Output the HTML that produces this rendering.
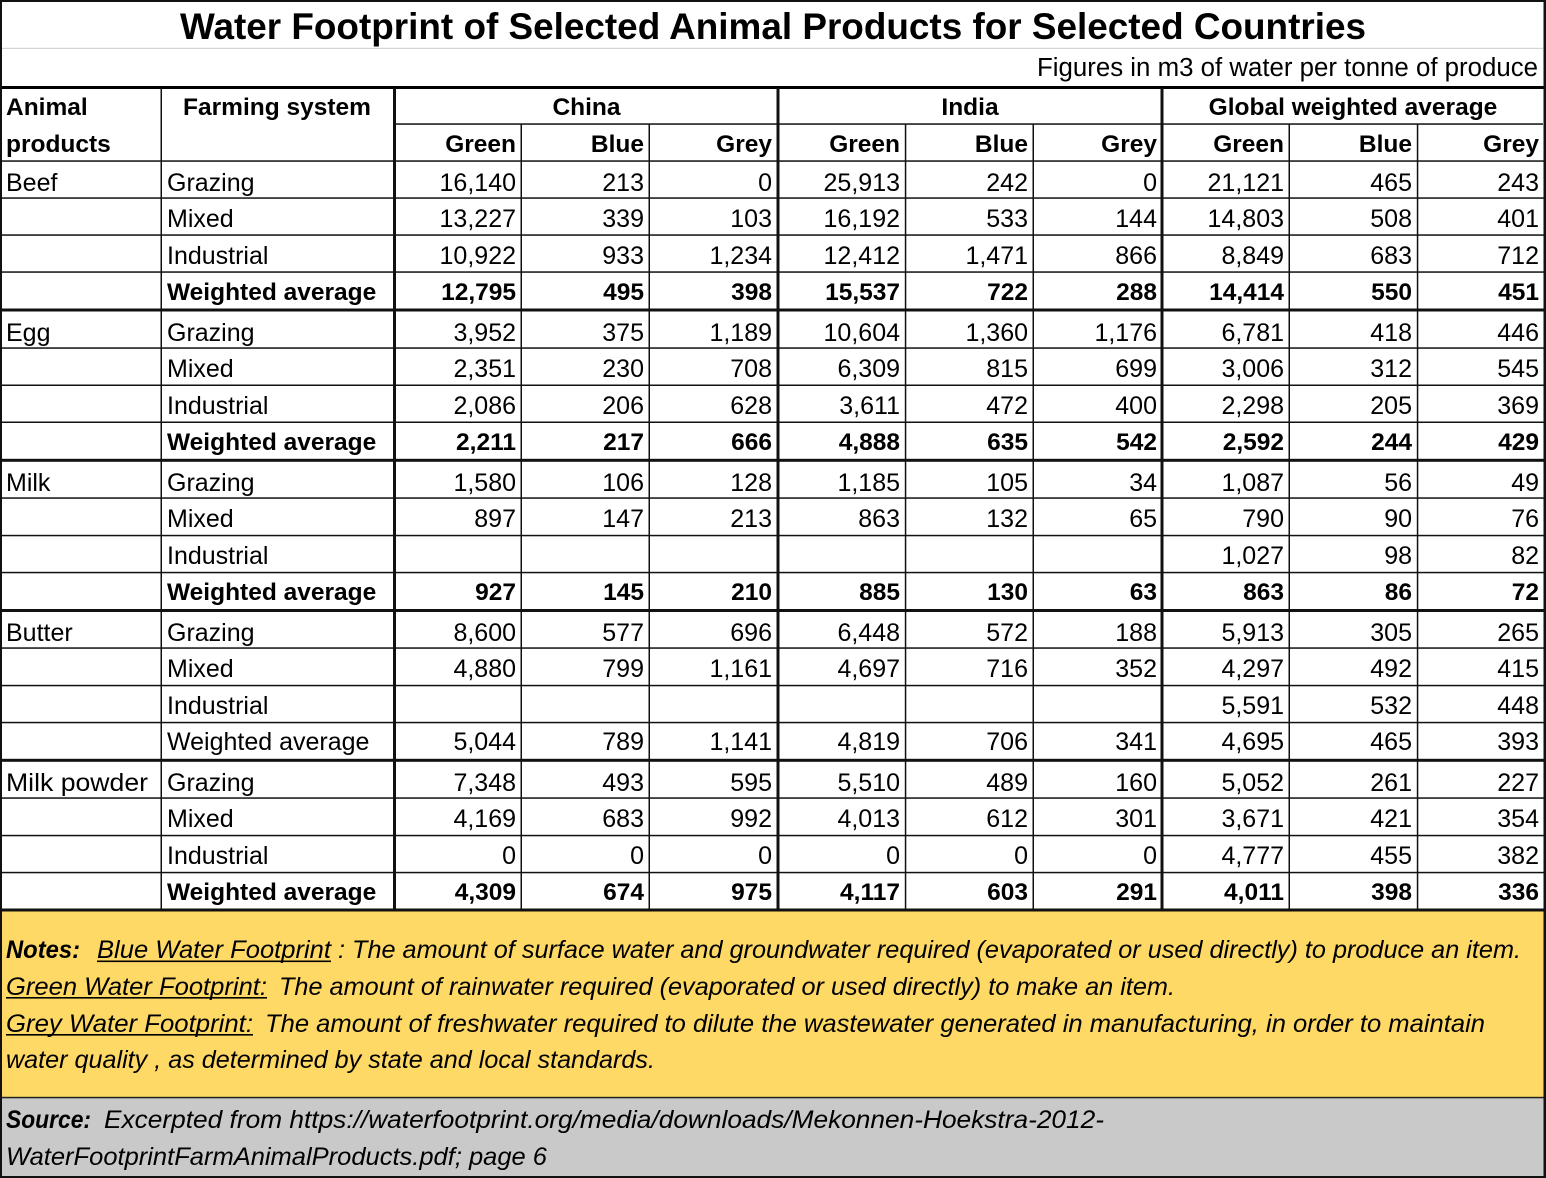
<!DOCTYPE html>
<html>
<head>
<meta charset="utf-8">
<style>
  html,body{margin:0;padding:0;background:#fff;}
  svg{display:block;}
  .n{font-size:25px;text-anchor:end;}
  .b{font-size:24.5px;font-weight:bold;text-anchor:end;}
  .l{font-size:25px;}
  .lb{font-size:24.5px;font-weight:bold;}
  .hc{font-size:24.5px;font-weight:bold;text-anchor:middle;}
  .it{font-size:25px;font-style:italic;}
  .bi{font-size:25px;font-style:italic;font-weight:bold;}
</style>
</head>
<body>
<svg width="1546" height="1178" viewBox="0 0 1546 1178" xmlns="http://www.w3.org/2000/svg" font-family="'Liberation Sans', Arial, sans-serif" fill="#000">
  <rect x="0" y="0" width="1546" height="1178" fill="#fff"/>
  <!-- notes / source backgrounds -->
  <rect x="0" y="911" width="1546" height="187" fill="#FFD966"/>
  <rect x="0" y="1097.5" width="1546" height="79" fill="#C9C9C9"/>

  <!-- title area lines -->
  <rect x="0" y="0" width="1546" height="2" fill="#111"/>
  <rect x="2" y="47.8" width="1541" height="1.2" fill="#d4d4d4"/>
  <rect x="0" y="86" width="1546" height="3" fill="#000"/>

  <!-- header horizontal lines -->
  <rect x="396" y="123.3" width="1147" height="1.5" fill="#111"/>
  <rect x="0" y="160.3" width="1546" height="1.5" fill="#111"/>

  <!-- data horizontal lines -->
  <g fill="#111">
    <rect x="0" y="197.3" width="1546" height="1.5"/>
    <rect x="0" y="234.3" width="1546" height="1.5"/>
    <rect x="0" y="271.3" width="1546" height="1.5"/>
    <rect x="0" y="308.5" width="1546" height="3"/>
    <rect x="0" y="347.3" width="1546" height="1.5"/>
    <rect x="0" y="384.5" width="1546" height="1.5"/>
    <rect x="0" y="421.5" width="1546" height="1.5"/>
    <rect x="0" y="458.8" width="1546" height="3"/>
    <rect x="0" y="497.3" width="1546" height="1.5"/>
    <rect x="0" y="534.8" width="1546" height="1.5"/>
    <rect x="0" y="571.8" width="1546" height="1.5"/>
    <rect x="0" y="609" width="1546" height="3"/>
    <rect x="0" y="647.3" width="1546" height="1.5"/>
    <rect x="0" y="684.8" width="1546" height="1.5"/>
    <rect x="0" y="721.8" width="1546" height="1.5"/>
    <rect x="0" y="758.8" width="1546" height="3"/>
    <rect x="0" y="797.3" width="1546" height="1.5"/>
    <rect x="0" y="834.8" width="1546" height="1.5"/>
    <rect x="0" y="871.8" width="1546" height="1.5"/>
    <rect x="0" y="908.5" width="1546" height="3"/>
  </g>
  <rect x="0" y="1096.8" width="1546" height="1.5" fill="#222"/>
  <rect x="0" y="1176" width="1546" height="2" fill="#111"/>

  <!-- vertical lines -->
  <g fill="#111">
    <rect x="160.5" y="88" width="1.5" height="822"/>
    <rect x="393" y="88" width="3" height="822"/>
    <rect x="776.5" y="88" width="3" height="822"/>
    <rect x="1160.5" y="88" width="3" height="822"/>
    <rect x="520.5" y="124" width="1.5" height="786"/>
    <rect x="648.5" y="124" width="1.5" height="786"/>
    <rect x="904.8" y="124" width="1.5" height="786"/>
    <rect x="1032.5" y="124" width="1.5" height="786"/>
    <rect x="1288.5" y="124" width="1.5" height="786"/>
    <rect x="1416.8" y="124" width="1.5" height="786"/>
  </g>
  <rect x="0" y="0" width="2" height="1178" fill="#111"/>
  <rect x="1543.5" y="0" width="2.5" height="1178" fill="#111"/>

  <!-- title -->
  <text x="180" y="39" font-size="37" font-weight="bold" textLength="1186" lengthAdjust="spacingAndGlyphs">Water Footprint of Selected Animal Products for Selected Countries</text>
  <text x="1037" y="76" font-size="25.5" textLength="501" lengthAdjust="spacingAndGlyphs">Figures in m3 of water per tonne of produce</text>

  <!-- headers -->
  <text class="lb" x="6" y="115">Animal</text>
  <text class="lb" x="6" y="152">products</text>
  <text class="hc" x="277" y="115">Farming system</text>
  <text class="hc" x="586.5" y="115">China</text>
  <text class="hc" x="970" y="115">India</text>
  <text class="hc" x="1353" y="115">Global weighted average</text>
  <g class="b">
    <text x="516" y="152">Green</text><text x="644" y="152">Blue</text><text x="772" y="152">Grey</text>
    <text x="900" y="152">Green</text><text x="1028" y="152">Blue</text><text x="1157" y="152">Grey</text>
    <text x="1284" y="152">Green</text><text x="1412" y="152">Blue</text><text x="1539" y="152">Grey</text>
  </g>

  <!-- product labels -->
  <g class="l">
    <text x="6" y="191">Beef</text>
    <text x="6" y="341">Egg</text>
    <text x="6" y="491">Milk</text>
    <text x="6" y="641">Butter</text>
    <text x="6" y="791" textLength="142" lengthAdjust="spacingAndGlyphs">Milk powder</text>
  </g>

  <!-- farming system labels -->
  <g class="l">
    <text x="167" y="191">Grazing</text><text x="167" y="227">Mixed</text><text x="167" y="264">Industrial</text>
    <text x="167" y="341">Grazing</text><text x="167" y="377">Mixed</text><text x="167" y="414">Industrial</text>
    <text x="167" y="491">Grazing</text><text x="167" y="527">Mixed</text><text x="167" y="564">Industrial</text>
    <text x="167" y="641">Grazing</text><text x="167" y="677">Mixed</text><text x="167" y="714">Industrial</text>
    <text x="167" y="750">Weighted average</text>
    <text x="167" y="791">Grazing</text><text x="167" y="827">Mixed</text><text x="167" y="864">Industrial</text>
  </g>
  <g class="lb">
    <text x="167" y="300">Weighted average</text>
    <text x="167" y="450">Weighted average</text>
    <text x="167" y="600">Weighted average</text>
    <text x="167" y="900">Weighted average</text>
  </g>

  <!-- Beef -->
  <g class="n">
    <text x="516" y="191">16,140</text><text x="644" y="191">213</text><text x="772" y="191">0</text>
    <text x="900" y="191">25,913</text><text x="1028" y="191">242</text><text x="1157" y="191">0</text>
    <text x="1284" y="191">21,121</text><text x="1412" y="191">465</text><text x="1539" y="191">243</text>

    <text x="516" y="227">13,227</text><text x="644" y="227">339</text><text x="772" y="227">103</text>
    <text x="900" y="227">16,192</text><text x="1028" y="227">533</text><text x="1157" y="227">144</text>
    <text x="1284" y="227">14,803</text><text x="1412" y="227">508</text><text x="1539" y="227">401</text>

    <text x="516" y="264">10,922</text><text x="644" y="264">933</text><text x="772" y="264">1,234</text>
    <text x="900" y="264">12,412</text><text x="1028" y="264">1,471</text><text x="1157" y="264">866</text>
    <text x="1284" y="264">8,849</text><text x="1412" y="264">683</text><text x="1539" y="264">712</text>
  </g>
  <g class="b">
    <text x="516" y="300">12,795</text><text x="644" y="300">495</text><text x="772" y="300">398</text>
    <text x="900" y="300">15,537</text><text x="1028" y="300">722</text><text x="1157" y="300">288</text>
    <text x="1284" y="300">14,414</text><text x="1412" y="300">550</text><text x="1539" y="300">451</text>
  </g>

  <!-- Egg -->
  <g class="n">
    <text x="516" y="341">3,952</text><text x="644" y="341">375</text><text x="772" y="341">1,189</text>
    <text x="900" y="341">10,604</text><text x="1028" y="341">1,360</text><text x="1157" y="341">1,176</text>
    <text x="1284" y="341">6,781</text><text x="1412" y="341">418</text><text x="1539" y="341">446</text>

    <text x="516" y="377">2,351</text><text x="644" y="377">230</text><text x="772" y="377">708</text>
    <text x="900" y="377">6,309</text><text x="1028" y="377">815</text><text x="1157" y="377">699</text>
    <text x="1284" y="377">3,006</text><text x="1412" y="377">312</text><text x="1539" y="377">545</text>

    <text x="516" y="414">2,086</text><text x="644" y="414">206</text><text x="772" y="414">628</text>
    <text x="900" y="414">3,611</text><text x="1028" y="414">472</text><text x="1157" y="414">400</text>
    <text x="1284" y="414">2,298</text><text x="1412" y="414">205</text><text x="1539" y="414">369</text>
  </g>
  <g class="b">
    <text x="516" y="450">2,211</text><text x="644" y="450">217</text><text x="772" y="450">666</text>
    <text x="900" y="450">4,888</text><text x="1028" y="450">635</text><text x="1157" y="450">542</text>
    <text x="1284" y="450">2,592</text><text x="1412" y="450">244</text><text x="1539" y="450">429</text>
  </g>

  <!-- Milk -->
  <g class="n">
    <text x="516" y="491">1,580</text><text x="644" y="491">106</text><text x="772" y="491">128</text>
    <text x="900" y="491">1,185</text><text x="1028" y="491">105</text><text x="1157" y="491">34</text>
    <text x="1284" y="491">1,087</text><text x="1412" y="491">56</text><text x="1539" y="491">49</text>

    <text x="516" y="527">897</text><text x="644" y="527">147</text><text x="772" y="527">213</text>
    <text x="900" y="527">863</text><text x="1028" y="527">132</text><text x="1157" y="527">65</text>
    <text x="1284" y="527">790</text><text x="1412" y="527">90</text><text x="1539" y="527">76</text>

    <text x="1284" y="564">1,027</text><text x="1412" y="564">98</text><text x="1539" y="564">82</text>
  </g>
  <g class="b">
    <text x="516" y="600">927</text><text x="644" y="600">145</text><text x="772" y="600">210</text>
    <text x="900" y="600">885</text><text x="1028" y="600">130</text><text x="1157" y="600">63</text>
    <text x="1284" y="600">863</text><text x="1412" y="600">86</text><text x="1539" y="600">72</text>
  </g>

  <!-- Butter -->
  <g class="n">
    <text x="516" y="641">8,600</text><text x="644" y="641">577</text><text x="772" y="641">696</text>
    <text x="900" y="641">6,448</text><text x="1028" y="641">572</text><text x="1157" y="641">188</text>
    <text x="1284" y="641">5,913</text><text x="1412" y="641">305</text><text x="1539" y="641">265</text>

    <text x="516" y="677">4,880</text><text x="644" y="677">799</text><text x="772" y="677">1,161</text>
    <text x="900" y="677">4,697</text><text x="1028" y="677">716</text><text x="1157" y="677">352</text>
    <text x="1284" y="677">4,297</text><text x="1412" y="677">492</text><text x="1539" y="677">415</text>

    <text x="1284" y="714">5,591</text><text x="1412" y="714">532</text><text x="1539" y="714">448</text>

    <text x="516" y="750">5,044</text><text x="644" y="750">789</text><text x="772" y="750">1,141</text>
    <text x="900" y="750">4,819</text><text x="1028" y="750">706</text><text x="1157" y="750">341</text>
    <text x="1284" y="750">4,695</text><text x="1412" y="750">465</text><text x="1539" y="750">393</text>
  </g>

  <!-- Milk powder -->
  <g class="n">
    <text x="516" y="791">7,348</text><text x="644" y="791">493</text><text x="772" y="791">595</text>
    <text x="900" y="791">5,510</text><text x="1028" y="791">489</text><text x="1157" y="791">160</text>
    <text x="1284" y="791">5,052</text><text x="1412" y="791">261</text><text x="1539" y="791">227</text>

    <text x="516" y="827">4,169</text><text x="644" y="827">683</text><text x="772" y="827">992</text>
    <text x="900" y="827">4,013</text><text x="1028" y="827">612</text><text x="1157" y="827">301</text>
    <text x="1284" y="827">3,671</text><text x="1412" y="827">421</text><text x="1539" y="827">354</text>

    <text x="516" y="864">0</text><text x="644" y="864">0</text><text x="772" y="864">0</text>
    <text x="900" y="864">0</text><text x="1028" y="864">0</text><text x="1157" y="864">0</text>
    <text x="1284" y="864">4,777</text><text x="1412" y="864">455</text><text x="1539" y="864">382</text>
  </g>
  <g class="b">
    <text x="516" y="900">4,309</text><text x="644" y="900">674</text><text x="772" y="900">975</text>
    <text x="900" y="900">4,117</text><text x="1028" y="900">603</text><text x="1157" y="900">291</text>
    <text x="1284" y="900">4,011</text><text x="1412" y="900">398</text><text x="1539" y="900">336</text>
  </g>

  <!-- Notes -->
  <text class="bi" x="6" y="958" textLength="74" lengthAdjust="spacingAndGlyphs">Notes:</text>
  <text class="it" x="97" y="958" textLength="234" lengthAdjust="spacingAndGlyphs">Blue Water Footprint</text>
  <rect x="97" y="960.5" width="234" height="1.6" fill="#000"/>
  <text class="it" x="338" y="958" textLength="1183" lengthAdjust="spacingAndGlyphs">: The amount of surface water and groundwater required (evaporated or used directly) to produce an item.</text>

  <text class="it" x="6" y="995" textLength="261" lengthAdjust="spacingAndGlyphs">Green Water Footprint:</text>
  <rect x="6" y="997" width="261" height="1.6" fill="#000"/>
  <text class="it" x="279" y="995" textLength="896" lengthAdjust="spacingAndGlyphs">The amount of rainwater required (evaporated or used directly) to make an item.</text>

  <text class="it" x="6" y="1032" textLength="247" lengthAdjust="spacingAndGlyphs">Grey Water Footprint:</text>
  <rect x="6" y="1034" width="247" height="1.6" fill="#000"/>
  <text class="it" x="265" y="1032" textLength="1220" lengthAdjust="spacingAndGlyphs">The amount of freshwater required to dilute the wastewater generated in manufacturing, in order to maintain</text>

  <text class="it" x="6" y="1068" textLength="649" lengthAdjust="spacingAndGlyphs">water quality , as determined by state and local standards.</text>

  <!-- Source -->
  <text class="bi" x="6" y="1128" textLength="85" lengthAdjust="spacingAndGlyphs">Source:</text>
  <text class="it" x="104" y="1128" textLength="1000" lengthAdjust="spacingAndGlyphs">Excerpted from https://waterfootprint.org/media/downloads/Mekonnen-Hoekstra-2012-</text>
  <text class="it" x="6" y="1165" textLength="541" lengthAdjust="spacingAndGlyphs">WaterFootprintFarmAnimalProducts.pdf; page 6</text>
</svg>
</body>
</html>
